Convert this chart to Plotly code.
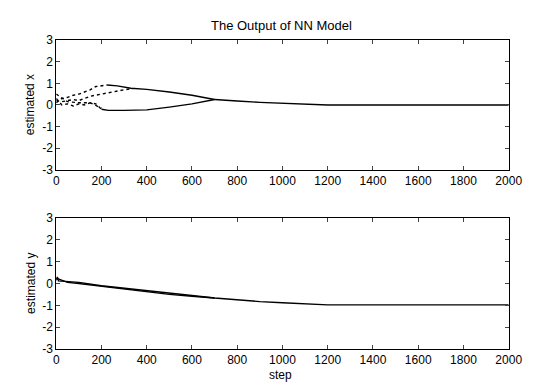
import plotly.graph_objects as go

W, H = 536, 383

# ---- data: estimated x (top panel) ----
x_upper_steps = [0, 25, 50, 75, 100, 125, 150, 175, 200, 225]
x_upper_vals = [0.1, 0.3, 0.35, 0.45, 0.5, 0.6, 0.7, 0.85, 0.9, 0.92]
x_upper2_steps = [225, 270, 330, 400, 500, 600, 700]
x_upper2_vals = [0.92, 0.88, 0.77, 0.72, 0.6, 0.45, 0.25]
x_mid_steps = [0, 25, 50, 75, 100, 125, 150, 175, 200, 250, 300, 340]
x_mid_vals = [0.2, 0.15, 0.2, 0.25, 0.2, 0.3, 0.4, 0.45, 0.5, 0.62, 0.7, 0.76]
x_low_steps = [0, 25, 50, 75, 100, 125, 150, 175, 200]
x_low_vals = [0.3, 0.0, 0.05, -0.05, 0.05, 0.0, 0.1, 0.05, -0.2]
x_low2_steps = [200, 230, 300, 400, 500, 600, 700]
x_low2_vals = [-0.2, -0.25, -0.25, -0.23, -0.1, 0.05, 0.25]
x_extra_steps = [0, 50, 100, 150, 200]
x_extra_vals = [0.5, 0.15, 0.1, 0.1, -0.15]
x_tail_steps = [700, 750, 800, 900, 1000, 1100, 1200, 1400, 1600, 1800, 2000]
x_tail_vals = [0.25, 0.2, 0.18, 0.12, 0.07, 0.02, 0.0, 0.0, 0.0, 0.0, 0.0]

# ---- data: estimated y (bottom panel) ----
y_a_steps = [0, 5, 10, 100, 200, 300, 400, 500, 600, 700, 800, 900, 1000, 1100, 1200, 1400, 1600, 1800, 2000]
y_a_vals = [0.15, 0.3, 0.12, 0.05, -0.1, -0.22, -0.32, -0.45, -0.55, -0.66, -0.76, -0.83, -0.88, -0.92, -0.98, -0.98, -0.98, -0.98, -0.98]
y_b_steps = [0, 50, 100, 200, 300, 400, 500, 600, 700]
y_b_vals = [0.25, 0.05, 0.0, -0.12, -0.27, -0.38, -0.5, -0.58, -0.66]

x_ticks = [0, 200, 400, 600, 800, 1000, 1200, 1400, 1600, 1800, 2000]
y_ticks = [-3, -2, -1, 0, 1, 2, 3]
y_tick_labels = ["-3", "-2", "-1", "0", "1", "2", "3"]

fig = go.Figure()
line = dict(color="black", width=1.4)
dot = dict(color="black", width=1.4, dash="dot")

def add(xs, ys, ln, axis):
    fig.add_trace(go.Scatter(x=xs, y=ys, mode="lines", line=ln,
                             xaxis="x" if axis == 1 else "x2",
                             yaxis="y" if axis == 1 else "y2",
                             showlegend=False, hoverinfo="skip"))

add(x_upper_steps, x_upper_vals, dot, 1)
add(x_upper2_steps, x_upper2_vals, line, 1)
add(x_mid_steps, x_mid_vals, dot, 1)
add(x_low_steps, x_low_vals, dot, 1)
add(x_low2_steps, x_low2_vals, line, 1)
add(x_extra_steps, x_extra_vals, dot, 1)
add(x_tail_steps, x_tail_vals, line, 1)
add(y_a_steps, y_a_vals, line, 2)
add(y_b_steps, y_b_vals, line, 2)

fam = "Liberation Sans, Arial, sans-serif"
font = dict(family=fam, size=12, color="black")
ax_common = dict(range=[0, 2000], tickvals=x_ticks, ticks="inside", ticklen=4,
                 showline=True, linecolor="black", linewidth=1, mirror="ticks",
                 showgrid=False, zeroline=False, tickfont=font)
ay_common = dict(range=[-3, 3], tickvals=y_ticks, ticktext=y_tick_labels,
                 ticks="inside", ticklen=4,
                 showline=True, linecolor="black", linewidth=1, mirror="ticks",
                 showgrid=False, zeroline=False, tickfont=font)

xd = [46.7 / W, 514 / W]
lab = dict(family=fam, size=12, color="black")
fig.update_layout(
    width=W, height=H,
    margin=dict(l=0, r=0, t=0, b=0),
    paper_bgcolor="white", plot_bgcolor="white",
    font=font,
    xaxis=dict(domain=xd, anchor="y", **ax_common),
    yaxis=dict(domain=[1 - 160.7 / H, 1 - 26 / H], anchor="x", **ay_common),
    xaxis2=dict(domain=xd, anchor="y2", **ax_common),
    yaxis2=dict(domain=[1 - 346.7 / H, 1 - 210.7 / H], anchor="x2", **ay_common),
    annotations=[
        dict(text="The Output of NN Model", x=279 / W, y=1 - 11 / H, xref="paper", yref="paper",
             xanchor="center", yanchor="middle", showarrow=False,
             font=dict(family=fam, size=13, color="black")),
        dict(text="estimated x", x=20 / W, y=1 - 93.3 / H, xref="paper", yref="paper",
             xanchor="center", yanchor="middle", textangle=-90, showarrow=False, font=lab),
        dict(text="estimated y", x=20 / W, y=1 - 278.7 / H, xref="paper", yref="paper",
             xanchor="center", yanchor="middle", textangle=-90, showarrow=False, font=lab),
        dict(text="step", x=278 / W, y=1 - 374 / H, xref="paper", yref="paper",
             xanchor="center", yanchor="middle", showarrow=False, font=lab),
    ],
)

fig.write_html("out.html")
